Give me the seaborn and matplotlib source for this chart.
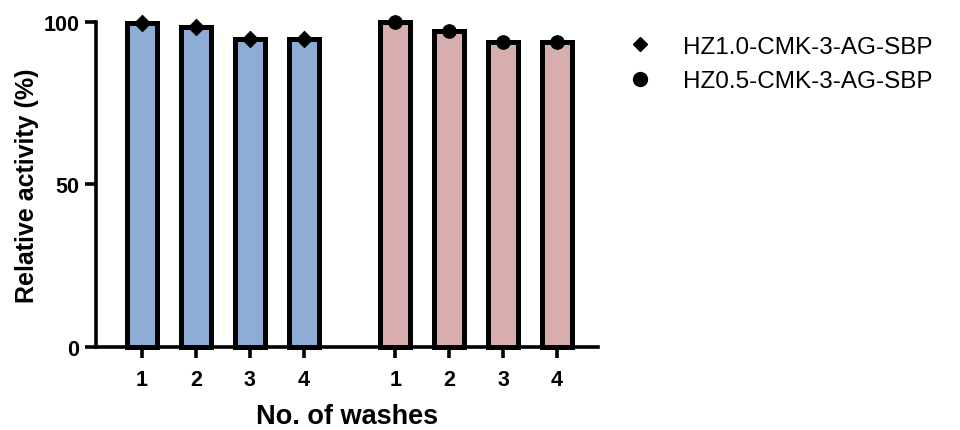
import matplotlib
matplotlib.use("Agg")
import matplotlib.pyplot as plt
import seaborn as sns
import pandas as pd
import numpy as np
from matplotlib.lines import Line2D

washes = [1, 2, 3, 4]
series_names = ["HZ1.0-CMK-3-AG-SBP", "HZ0.5-CMK-3-AG-SBP"]
hz10_values = [99.5, 98.3, 94.8, 94.8]
hz05_values = [99.8, 97.2, 93.8, 93.8]

bar_colors = ["#8dadd4", "#d8adae"]
group_offset = 4.7

rows = []
for g, (name, vals) in enumerate(zip(series_names, [hz10_values, hz05_values])):
    for i, (w, v) in enumerate(zip(washes, vals)):
        rows.append({"pos": i + g * group_offset, "wash": w, "value": v, "series": name})
df = pd.DataFrame(rows)

sns.set_style("ticks")
plt.rcParams["font.family"] = ["Liberation Sans", "DejaVu Sans"]
for k in ["text.color", "axes.labelcolor", "xtick.color", "ytick.color", "axes.edgecolor"]:
    plt.rcParams[k] = "black"

fig = plt.figure(figsize=(9.6, 4.31), dpi=100)
ax = fig.add_axes([0.1, 0.1926, 0.523, 0.7548])

sns.barplot(data=df, x="pos", y="value", hue="series", palette=bar_colors,
            native_scale=True, width=0.56, dodge=False, edgecolor="black",
            linewidth=3.6, ax=ax, legend=False, errorbar=None, saturation=1)
for p in ax.patches:
    p.set_clip_on(False)

markers = ["D", "o"]
sizes = [70, 95]
for name, m, s in zip(series_names, markers, sizes):
    sub = df[df.series == name]
    sns.scatterplot(data=sub, x="pos", y="value", marker=m, s=s, color="black",
                    edgecolor="black", ax=ax, legend=False, clip_on=False, zorder=5)

ax.set_xlim(-0.85, 8.46)
ax.set_ylim(0, 100)
ax.set_yticks([0, 50, 100])
ax.set_xticks(df["pos"].tolist())
ax.set_xticklabels([str(w) for w in df["wash"]])
for sp in ["top", "right"]:
    ax.spines[sp].set_visible(False)
for sp in ["left", "bottom"]:
    ax.spines[sp].set_linewidth(2.6)
ax.tick_params(axis="both", width=2.6, length=8, labelsize=15.5, pad=4)
ax.tick_params(axis="x", pad=8)
for lab in ax.get_xticklabels() + ax.get_yticklabels():
    lab.set_fontweight("bold")
ax.set_xlabel("No. of washes", fontsize=19.5, fontweight="bold", labelpad=9)
ax.set_ylabel("Relative activity (%)", fontsize=18, fontweight="bold", labelpad=3)

handles = [Line2D([], [], marker="D", color="black", linestyle="none", markersize=7),
           Line2D([], [], marker="o", color="black", linestyle="none", markersize=10)]
fig.legend(handles, series_names, loc="upper left", bbox_to_anchor=(0.625, 0.965),
           frameon=False, fontsize=17.5, handletextpad=1.0, labelspacing=0.5,
           handlelength=1.5)

fig.savefig("out.png", dpi=100)
